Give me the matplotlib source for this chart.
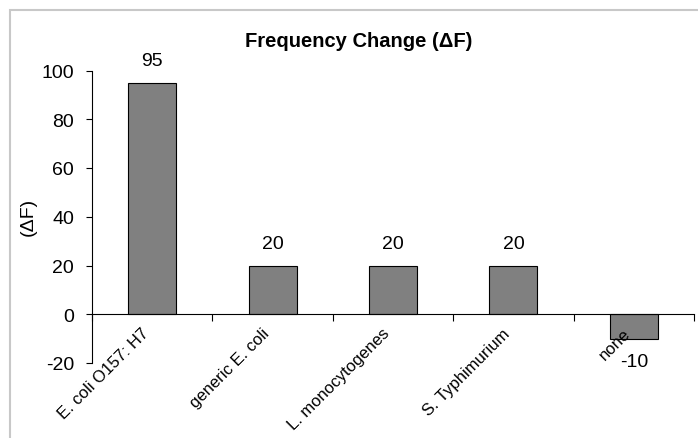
import matplotlib
matplotlib.use("Agg")
import matplotlib.pyplot as plt
from matplotlib.patches import Rectangle

categories = ["E. coli O157: H7", "generic E. coli", "L. monocytogenes", "S. Typhimurium", "none"]
values = [95, 20, 20, 20, -10]
yticks = [-20, 0, 20, 40, 60, 80, 100]

plt.rcParams['font.family'] = ['Liberation Sans', 'DejaVu Sans']

fig = plt.figure(figsize=(6.98, 4.39), dpi=100)
W, H = 698, 439
ax = fig.add_axes([92 / W, 1 - 364 / H, 602 / W, (364 - 71.5) / H])

x = list(range(len(categories)))
bars = ax.bar(x, values, width=0.4, color='#808080', edgecolor='black', linewidth=0.8)
ax.bar_label(bars, labels=[str(v) for v in values], padding=10, fontsize=14)

ax.set_xlim(-0.5, len(categories) - 0.5)
ax.set_ylim(-20, 100)
ax.set_yticks(yticks)
ax.set_yticklabels([str(t) for t in yticks], fontsize=14)
ax.tick_params(axis='y', direction='out', length=4, width=0.8, pad=9)

ax.spines['top'].set_visible(False)
ax.spines['right'].set_visible(False)
ax.spines['bottom'].set_position(('data', 0))
ax.spines['left'].set_linewidth(0.8)
ax.spines['bottom'].set_linewidth(0.8)

ax.set_xticks([i - 0.5 for i in range(len(categories) + 1)])
ax.set_xticklabels([''] * (len(categories) + 1))
ax.tick_params(axis='x', direction='out', length=5, width=0.8)
for i, c in enumerate(categories):
    ax.annotate(c, xy=(i, 0), xycoords='data', xytext=(-8, -8), textcoords='offset points',
                rotation=45, ha='right', va='top', rotation_mode='anchor', fontsize=12)

fig.text(28 / W, 1 - 217 / H, '(ΔF)', rotation=90, ha='center', va='center', fontsize=14)

fig.text(359 / W, 1 - 47 / H, 'Frequency Change (ΔF)', ha='center', va='baseline',
         fontsize=14.5, fontweight='bold')

fig.patches.append(Rectangle((10 / W, -0.1), 1.2, 1 - 11 / H + 0.1, transform=fig.transFigure,
                             fill=False, edgecolor='#c8c8c8', linewidth=1.5, figure=fig))

fig.savefig('out.png', dpi=100)
